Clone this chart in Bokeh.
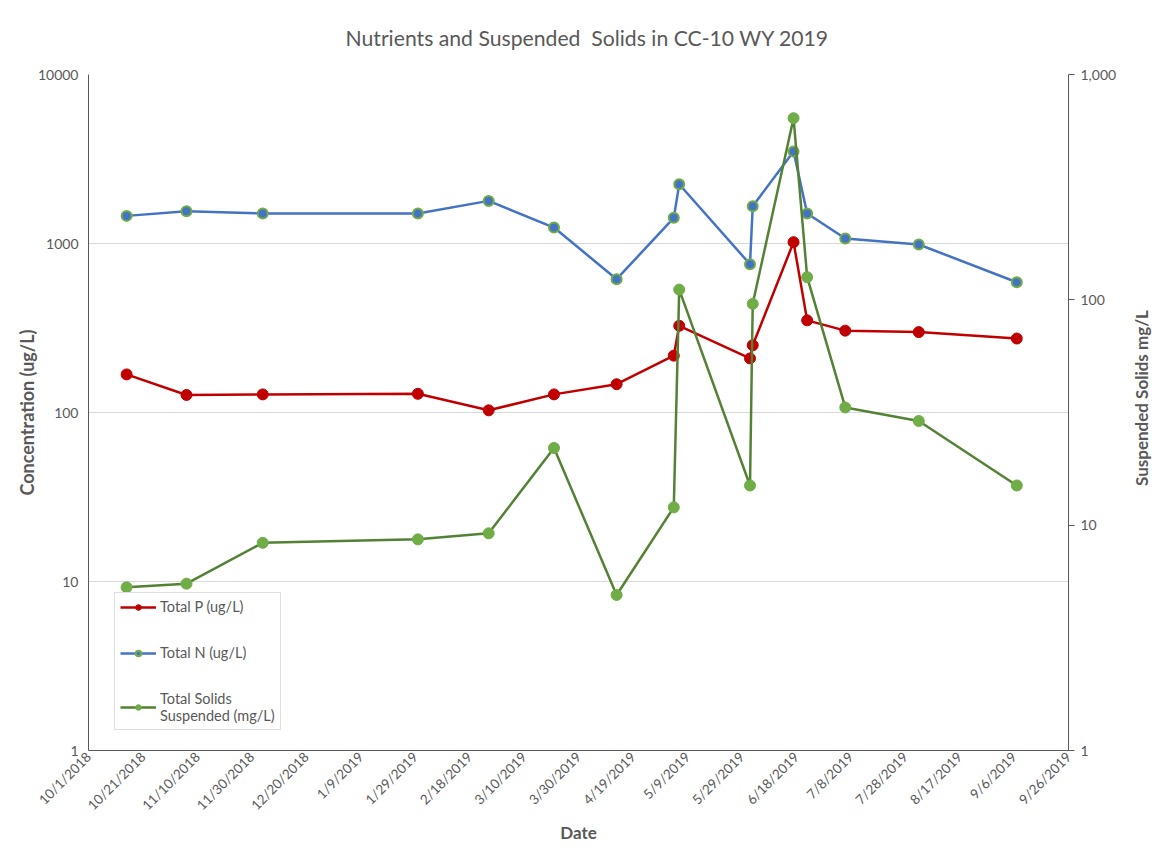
import math
import pandas as pd
from bokeh.plotting import figure
from bokeh.layouts import row
from bokeh.models import (LogAxis, Range1d, LogScale, FixedTicker, Legend, LegendItem,
                          ColumnDataSource, NumeralTickFormatter, Div)
from bokeh.embed import file_html
from bokeh.resources import INLINE

# ---------------- data ----------------
dates = ["10/15/2018", "11/6/2018", "12/4/2018", "1/30/2019", "2/25/2019", "3/21/2019",
         "4/13/2019", "5/4/2019", "5/6/2019", "6/1/2019", "6/2/2019", "6/17/2019",
         "6/22/2019", "7/6/2019", "8/2/2019", "9/7/2019"]
total_p = [168, 127, 128, 129, 103, 128, 147, 217, 326, 209, 250, 1018, 351, 305, 299, 274]
total_n = [1457, 1553, 1505, 1505, 1787, 1243, 615, 1418, 2243, 754, 1662, 3503, 1505, 1071, 987, 590]
total_solids = [5.3, 5.5, 8.35, 8.65, 9.2, 22.0, 4.9, 12.0, 111, 15.0, 96, 640, 126, 33.3, 29.0, 15.0]

x_tick_labels = ["10/1/2018", "10/21/2018", "11/10/2018", "11/30/2018", "12/20/2018", "1/9/2019",
                 "1/29/2019", "2/18/2019", "3/10/2019", "3/30/2019", "4/19/2019", "5/9/2019",
                 "5/29/2019", "6/18/2019", "7/8/2019", "7/28/2019", "8/17/2019", "9/6/2019",
                 "9/26/2019"]
left_ticks = [1, 10, 100, 1000, 10000]
right_ticks = [1, 10, 100, 1000]

series_labels = ["Total P (ug/L)", "Total N (ug/L)", "Total Solids\nSuspended (mg/L)"]
title_text = "Nutrients and Suspended\u00a0 Solids in CC-10 WY 2019"
left_label = "Concentration (ug/L)"
right_label = "Suspended Solids mg/L"
x_label = "Date"

# ---------------- build ----------------
FONT = "Lato"
GRAY = "#595959"
TOTAL_W, H = 1158, 846
BL, BT, BR, BB = 88, 74, 56, 96
FRAME_W = 980
W = BL + FRAME_W + BR
SIDE_W = TOTAL_W - W

x = pd.to_datetime(dates, format="%m/%d/%Y")
xt = pd.to_datetime(x_tick_labels, format="%m/%d/%Y")
xt_ms = [int(t.timestamp() * 1000) for t in xt]

src = ColumnDataSource(dict(x=x, p=total_p, n=total_n, s=total_solids))

p = figure(width=W, height=H, x_axis_type="datetime", y_axis_type="log",
           x_range=Range1d(xt_ms[0], xt_ms[-1]), y_range=Range1d(1, 10000),
           output_backend="svg", toolbar_location=None,
           min_border_left=BL, min_border_right=BR, min_border_top=BT, min_border_bottom=BB)

p.outline_line_color = None
p.background_fill_color = "white"
p.border_fill_color = "white"

p.title.text = title_text
p.title.align = "left"
p.title.vertical_align = "middle"
p.title.text_font = FONT
p.title.text_font_style = "normal"
p.title.text_font_size = "21.2px"
p.title.text_color = GRAY
p.title.offset = 257
p.title.standoff = 45

# left axis
ya = p.yaxis[0]
ya.ticker = FixedTicker(ticks=left_ticks)
ya.formatter = NumeralTickFormatter(format="0")
ya.axis_label = left_label
ya.axis_label_text_font = FONT
ya.axis_label_text_font_style = "bold"
ya.axis_label_text_font_size = "18px"
ya.axis_label_text_color = GRAY
ya.major_label_text_font = FONT
ya.major_label_text_font_size = "14px"
ya.major_label_text_color = GRAY
ya.major_tick_out = 0
ya.major_tick_in = 0
ya.minor_tick_out = 0
ya.minor_tick_in = 0
ya.axis_line_color = "#595959"
ya.major_label_standoff = 10
ya.axis_label_standoff = -3

# bottom axis
xa = p.xaxis[0]
xa.ticker = FixedTicker(ticks=xt_ms)
xa.major_label_overrides = {t: lab for t, lab in zip(xt_ms, x_tick_labels)}
xa.major_label_orientation = math.pi / 4
xa.axis_label = x_label
xa.axis_label_text_font = FONT
xa.axis_label_text_font_style = "bold"
xa.axis_label_text_font_size = "17px"
xa.axis_label_text_color = GRAY
xa.major_label_text_font = FONT
xa.major_label_text_font_size = "13.5px"
xa.major_label_text_color = GRAY
xa.major_tick_out = 0
xa.major_tick_in = 0
xa.minor_tick_out = 0
xa.minor_tick_in = 0
xa.axis_line_color = "#595959"
xa.major_label_standoff = 4
xa.axis_label_standoff = 0

p.xgrid.grid_line_color = None
p.ygrid.grid_line_color = "#D9D9D9"
p.ygrid.grid_line_width = 1

# right axis
p.extra_y_ranges = {"tss": Range1d(1, 1000)}
p.extra_y_scales = {"tss": LogScale()}
ra = LogAxis(y_range_name="tss", ticker=FixedTicker(ticks=right_ticks),
             formatter=NumeralTickFormatter(format="0,0"))
ra.major_label_text_font = FONT
ra.major_label_text_font_size = "14px"
ra.major_label_text_color = GRAY
ra.major_tick_out = 6
ra.major_tick_in = 0
ra.minor_tick_out = 0
ra.minor_tick_in = 0
ra.major_tick_line_color = "#595959"
ra.axis_line_color = "#595959"
ra.major_label_standoff = 6
p.add_layout(ra, "right")

# series
lp = p.line("x", "p", source=src, line_color="#C00000", line_width=2.5)
sp = p.scatter("x", "p", source=src, size=11, fill_color="#C00000", line_color="#C00000")
ln = p.line("x", "n", source=src, line_color="#4472C4", line_width=2.5)
sn = p.scatter("x", "n", source=src, size=10, fill_color="#4472C4", line_color="#70AD47", line_width=2)
ls = p.line("x", "s", source=src, line_color="#548235", line_width=2.5, y_range_name="tss")
ss = p.scatter("x", "s", source=src, size=11, fill_color="#70AD47", line_color="#70AD47",
               y_range_name="tss")

legend = Legend(items=[LegendItem(label=series_labels[0], renderers=[lp, sp]),
                       LegendItem(label=series_labels[1], renderers=[ln, sn]),
                       LegendItem(label=series_labels[2], renderers=[ls, ss])],
                location=(26, 20))
legend.label_text_font = FONT
legend.label_text_font_size = "14.5px"
legend.label_text_color = GRAY
legend.label_text_line_height = 1.4
legend.border_line_color = "#BFBFBF"
legend.border_line_width = 1
legend.background_fill_color = "white"
legend.background_fill_alpha = 1
legend.glyph_width = 36
legend.glyph_height = 14
legend.label_height = 14
legend.spacing = 29
legend.padding = 5
legend.margin = 0
legend.label_standoff = 4
p.add_layout(legend)

# secondary-axis title, reading bottom-to-top, in a narrow strip right of the plot
label_cx = 1141 - W
label_cy = 398
side_html = (
    f'<div style="position:relative;width:{SIDE_W}px;height:{H}px;background:white;">'
    f'<div style="position:absolute;left:{label_cx}px;top:{label_cy}px;'
    f'transform:translate(-50%,-50%) rotate(-90deg);white-space:nowrap;'
    f'font-family:{FONT};font-weight:bold;font-size:17px;color:{GRAY};line-height:1;">'
    f'{right_label}</div></div>'
)
side = Div(text=side_html, width=SIDE_W, height=H, margin=0)

layout = row(p, side, spacing=0)
open("out.html", "w").write(file_html(layout, INLINE))
